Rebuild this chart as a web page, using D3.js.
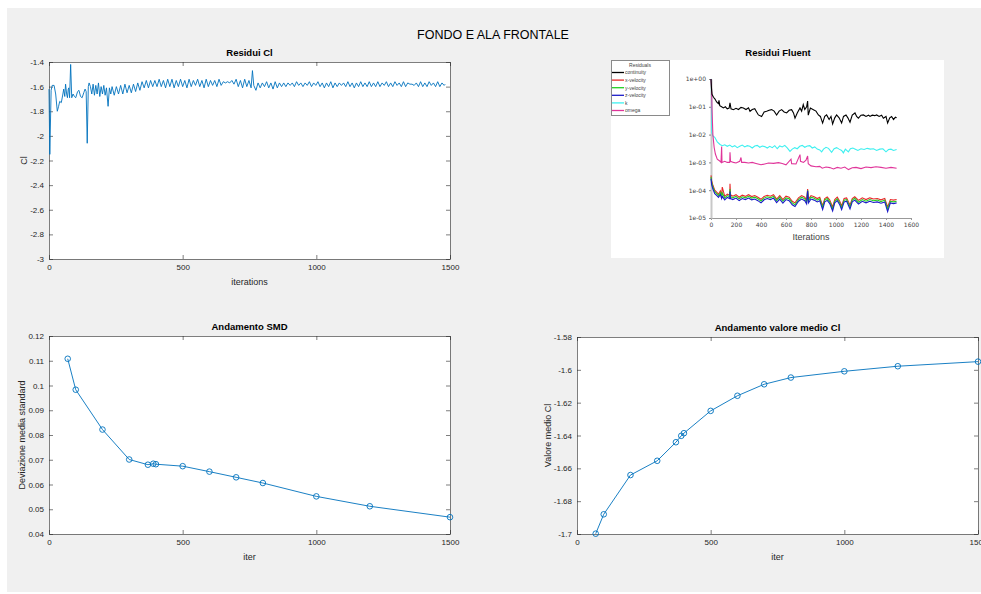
<!DOCTYPE html>
<html>
<head>
<meta charset="utf-8">
<script src="https://cdn.jsdelivr.net/npm/d3@7"></script>
<style>
  html, body { margin: 0; padding: 0; background: #fff; }
  svg { display: block; font-family: "Liberation Sans", Arial, Helvetica, sans-serif; }
</style>
</head>
<body>
<svg class="mainSvg"></svg>
<script>
// ===========================================================================
//     data area
// ===========================================================================
const figTitle = 'FONDO E ALA FRONTALE';

// Residui Cl : [iteration, Cl]
const clResidual = [
  [0, -1.62], [3, -2.15], [8, -1.63], [12, -1.59], [19, -1.59], [25, -1.66], [31, -1.80], [36, -1.76],
  [40, -1.72], [46, -1.73], [52, -1.66], [55, -1.62], [59, -1.68], [62, -1.58], [66, -1.66], [69, -1.69],
  [72, -1.62], [74, -1.61], [77, -1.69], [81, -1.42], [85, -1.69], [90, -1.66], [95, -1.68], [100, -1.69],
  [107, -1.64], [112, -1.63], [118, -1.68], [124, -1.69], [130, -1.65], [135, -1.62], [139, -1.64], [143, -2.06],
  [147, -1.60], [150, -1.57], [155, -1.60], [160, -1.66], [165, -1.58], [170, -1.67], [175, -1.59], [180, -1.66],
  [185, -1.57], [190, -1.68], [195, -1.60], [200, -1.66], [205, -1.59], [210, -1.67], [215, -1.61], [221, -1.76],
  [226, -1.61], [231, -1.66], [236, -1.60], [244, -1.67], [252, -1.60], [260, -1.66], [268, -1.59], [276, -1.66],
  [284, -1.58], [292, -1.65], [300, -1.59], [308, -1.65], [316, -1.58], [324, -1.64], [332, -1.57], [340, -1.63],
  [348, -1.56], [356, -1.61], [364, -1.55], [372, -1.61], [380, -1.55], [388, -1.60], [396, -1.55], [404, -1.60],
  [412, -1.54], [420, -1.60], [428, -1.55], [436, -1.61], [444, -1.54], [452, -1.60], [460, -1.54], [468, -1.61],
  [476, -1.55], [484, -1.60], [492, -1.54], [500, -1.60], [508, -1.55], [516, -1.61], [524, -1.54], [532, -1.60],
  [540, -1.55], [548, -1.59], [556, -1.54], [564, -1.60], [572, -1.55], [580, -1.61], [588, -1.54], [596, -1.60],
  [604, -1.55], [612, -1.59], [620, -1.55], [628, -1.60], [636, -1.54], [644, -1.59], [652, -1.56], [660, -1.57],
  [668, -1.56], [676, -1.57], [684, -1.55], [692, -1.58], [700, -1.54], [708, -1.60], [716, -1.55], [724, -1.61],
  [732, -1.54], [740, -1.60], [748, -1.55], [756, -1.61], [761, -1.47], [766, -1.59], [774, -1.63], [782, -1.57],
  [790, -1.61], [798, -1.57], [806, -1.60], [814, -1.56], [822, -1.61], [830, -1.57], [838, -1.62], [846, -1.56],
  [854, -1.61], [862, -1.57], [870, -1.60], [878, -1.57], [886, -1.60], [894, -1.57], [902, -1.59], [910, -1.57],
  [918, -1.60], [926, -1.56], [934, -1.59], [942, -1.57], [950, -1.60], [958, -1.57], [966, -1.59], [974, -1.56],
  [982, -1.60], [990, -1.57], [998, -1.59], [1006, -1.56], [1014, -1.60], [1022, -1.57], [1030, -1.61], [1038, -1.57],
  [1046, -1.60], [1054, -1.56], [1062, -1.61], [1070, -1.57], [1078, -1.60], [1086, -1.57], [1094, -1.59], [1102, -1.57],
  [1110, -1.60], [1118, -1.56], [1126, -1.60], [1134, -1.57], [1142, -1.61], [1150, -1.57], [1158, -1.60], [1166, -1.56],
  [1174, -1.60], [1182, -1.57], [1190, -1.60], [1198, -1.56], [1206, -1.60], [1214, -1.57], [1222, -1.60], [1230, -1.56],
  [1238, -1.60], [1246, -1.57], [1254, -1.59], [1262, -1.56], [1270, -1.60], [1278, -1.57], [1286, -1.60], [1294, -1.56],
  [1302, -1.59], [1310, -1.57], [1318, -1.60], [1326, -1.56], [1334, -1.60], [1342, -1.57], [1350, -1.58], [1358, -1.58],
  [1366, -1.59], [1374, -1.57], [1382, -1.60], [1390, -1.56], [1398, -1.60], [1406, -1.57], [1414, -1.60], [1422, -1.56],
  [1430, -1.59], [1438, -1.57], [1446, -1.60], [1454, -1.56], [1462, -1.60], [1470, -1.57], [1478, -1.59], [1482, -1.58],
];
const clTicks = [-3, -2.8, -2.6, -2.4, -2.2, -2, -1.8, -1.6, -1.4];
const iterTicks = [0, 500, 1000, 1500];

// Andamento SMD / valore medio Cl
const sampleIter = [70, 100, 200, 300, 370, 390, 400, 500, 600, 700, 800, 1000, 1200, 1500];
const smdValue = [0.1108, 0.0983, 0.0822, 0.0701, 0.0680, 0.0684, 0.0682, 0.0674, 0.0652, 0.0629, 0.0606, 0.0552, 0.0512, 0.0468];
const meanClValue = [-1.6998, -1.6880, -1.6641, -1.6554, -1.6441, -1.6402, -1.6386, -1.6250, -1.6158, -1.6088, -1.6047, -1.6009, -1.5978, -1.5950];
const smdTicks = [0.04, 0.05, 0.06, 0.07, 0.08, 0.09, 0.1, 0.11, 0.12];
const meanClTicks = [-1.7, -1.68, -1.66, -1.64, -1.62, -1.6, -1.58];

// Residui Fluent (scaled residuals) : [iteration, residual]
const continuityRes = [
  [0, 1.0], [4, 0.45], [8, 0.28], [20, 0.22], [32, 0.19], [45, 0.15], [59, 0.13], [64, 0.17], [70, 0.11], [85, 0.10],
  [99, 0.091], [115, 0.10], [130, 0.085], [145, 0.09], [152, 0.14], [160, 0.085], [179, 0.079], [200, 0.088], [220, 0.08],
  [240, 0.095], [259, 0.091], [280, 0.08], [300, 0.092], [312, 0.069], [330, 0.08], [350, 0.085], [365, 0.065], [379, 0.051],
  [405, 0.045], [425, 0.065], [445, 0.069], [465, 0.075], [485, 0.079], [505, 0.07], [525, 0.051], [545, 0.07], [565, 0.079],
  [585, 0.065], [605, 0.06], [625, 0.075], [645, 0.079], [660, 0.06], [672, 0.039], [690, 0.06], [712, 0.091], [725, 0.07],
  [738, 0.12], [750, 0.08], [765, 0.1], [773, 0.16], [778, 0.05], [795, 0.09], [819, 0.079], [840, 0.07], [859, 0.051],
  [875, 0.045], [893, 0.026], [910, 0.045], [925, 0.051], [945, 0.035], [960, 0.045], [973, 0.024], [990, 0.04], [1005, 0.051],
  [1025, 0.04], [1045, 0.026], [1060, 0.045], [1080, 0.051], [1095, 0.04], [1112, 0.028], [1130, 0.05], [1152, 0.06],
  [1165, 0.045], [1179, 0.039], [1200, 0.05], [1219, 0.051], [1240, 0.045], [1260, 0.05], [1272, 0.045], [1290, 0.05],
  [1310, 0.048], [1325, 0.051], [1345, 0.045], [1365, 0.05], [1379, 0.039], [1400, 0.045], [1413, 0.026], [1430, 0.04],
  [1445, 0.045], [1460, 0.035], [1475, 0.042], [1485, 0.04],
];
const kRes = [
  [0, 1.0], [3, 0.9], [6, 0.012], [15, 0.009], [30, 0.008], [50, 0.0055], [72, 0.0044], [90, 0.0040], [110, 0.0043],
  [130, 0.0038], [150, 0.0042], [170, 0.0036], [190, 0.0040], [210, 0.0034], [230, 0.0038], [250, 0.0042], [270, 0.0036],
  [290, 0.0040], [310, 0.0038], [330, 0.0033], [350, 0.0039], [370, 0.0041], [390, 0.0035], [410, 0.0039], [430, 0.0037],
  [450, 0.0033], [470, 0.0038], [490, 0.0034], [510, 0.0040], [530, 0.0031], [550, 0.0039], [570, 0.0036], [590, 0.0041],
  [610, 0.0033], [632, 0.0025], [650, 0.0030], [670, 0.0034], [690, 0.0031], [710, 0.0038], [730, 0.0041], [750, 0.0035],
  [770, 0.0039], [790, 0.0040], [810, 0.0033], [830, 0.0036], [850, 0.0030], [870, 0.0028], [885, 0.0024], [900, 0.0030],
  [920, 0.0035], [940, 0.0032], [965, 0.0023], [985, 0.0031], [1005, 0.0034], [1025, 0.0030], [1045, 0.0027], [1059, 0.0022],
  [1075, 0.0030], [1099, 0.0024], [1115, 0.0031], [1135, 0.0033], [1155, 0.0030], [1175, 0.0027], [1200, 0.0031],
  [1225, 0.0029], [1250, 0.0032], [1275, 0.0030], [1300, 0.0031], [1325, 0.0027], [1350, 0.0030], [1375, 0.0031],
  [1400, 0.0024], [1420, 0.0029], [1440, 0.0030], [1460, 0.0027], [1485, 0.0029],
];
const omegaRes = [
  [0, 1.0], [4, 0.5], [8, 0.08], [15, 0.01], [25, 0.0035], [35, 0.002], [50, 0.0013], [72, 0.0011], [80, 0.001],
  [85, 0.0037], [88, 0.001], [110, 0.0011], [130, 0.001], [150, 0.0010], [152, 0.0023], [156, 0.0011], [180, 0.001],
  [200, 0.00095], [230, 0.0011], [240, 0.0015], [245, 0.001], [270, 0.001], [300, 0.00095], [330, 0.001], [360, 0.00092],
  [400, 0.00082], [430, 0.00088], [460, 0.00095], [500, 0.00092], [540, 0.00098], [570, 0.00092], [600, 0.00082],
  [640, 0.0013], [645, 0.0009], [680, 0.00088], [712, 0.0019], [716, 0.0011], [740, 0.0010], [760, 0.0012], [773, 0.0017],
  [778, 0.0009], [800, 0.00075], [840, 0.0007], [870, 0.00072], [890, 0.00062], [920, 0.00068], [950, 0.00065],
  [980, 0.00058], [1010, 0.00066], [1040, 0.00062], [1070, 0.00068], [1100, 0.00055], [1130, 0.00064], [1160, 0.00066],
  [1200, 0.0006], [1240, 0.00068], [1280, 0.00065], [1320, 0.0007], [1360, 0.00066], [1400, 0.00062], [1440, 0.00066],
  [1485, 0.00062],
];
const velIter = [0, 5, 15, 30, 45, 60, 75, 85, 90, 110, 130, 150, 152, 156, 175, 200, 225, 250, 275, 300, 325, 350, 375,
  400, 425, 450, 475, 500, 525, 550, 575, 600, 625, 650, 672, 700, 725, 750, 765, 773, 780, 800, 825, 850, 870, 893, 910,
  930, 950, 973, 990, 1010, 1030, 1045, 1065, 1085, 1112, 1130, 1150, 1180, 1210, 1240, 1270, 1300, 1330, 1360, 1390,
  1413, 1435, 1460, 1485];
const xVelRes = [3.4e-4, 2.2e-4, 1.5e-4, 1.0e-4, 8.5e-5, 7.2e-5, 9.5e-5, 6.6e-5, 1.3e-4, 6.0e-5, 7.2e-5, 6.6e-5, 1.7e-4,
  6.8e-5, 6.1e-5, 6.9e-5, 5.6e-5, 6.6e-5, 6.0e-5, 6.9e-5, 5.9e-5, 6.4e-5, 5.6e-5, 4.7e-5, 6.0e-5, 6.6e-5, 6.1e-5, 6.9e-5,
  4.8e-5, 6.4e-5, 4.6e-5, 6.1e-5, 5.6e-5, 4.0e-5, 3.5e-5, 5.3e-5, 6.4e-5, 5.6e-5, 4.3e-5, 1.1e-4, 4.7e-5, 6.4e-5, 5.8e-5,
  5.0e-5, 5.6e-5, 2.8e-5, 5.0e-5, 5.7e-5, 4.4e-5, 2.5e-5, 4.6e-5, 5.6e-5, 4.0e-5, 2.7e-5, 5.0e-5, 5.3e-5, 2.9e-5, 5.0e-5,
  5.8e-5, 4.3e-5, 5.3e-5, 4.6e-5, 5.3e-5, 4.8e-5, 5.0e-5, 4.5e-5, 5.0e-5, 2.5e-5, 4.6e-5, 4.4e-5, 4.6e-5];
const yVelRes = [3.0e-4, 1.9e-4, 1.3e-4, 8.8e-5, 7.5e-5, 6.4e-5, 8.2e-5, 5.8e-5, 8.0e-5, 5.2e-5, 6.4e-5, 5.8e-5, 1.1e-4,
  5.9e-5, 5.3e-5, 6.0e-5, 4.9e-5, 5.8e-5, 5.3e-5, 6.0e-5, 5.2e-5, 5.6e-5, 4.9e-5, 4.1e-5, 5.2e-5, 5.8e-5, 5.3e-5, 6.0e-5,
  4.2e-5, 5.6e-5, 4.0e-5, 5.3e-5, 4.9e-5, 3.5e-5, 3.0e-5, 4.6e-5, 5.6e-5, 4.9e-5, 3.7e-5, 1.0e-4, 4.1e-5, 5.6e-5, 5.1e-5,
  4.4e-5, 4.9e-5, 2.4e-5, 4.4e-5, 5.0e-5, 3.8e-5, 2.1e-5, 4.0e-5, 4.9e-5, 3.5e-5, 2.3e-5, 4.4e-5, 4.6e-5, 2.5e-5, 4.4e-5,
  5.1e-5, 3.7e-5, 4.6e-5, 4.0e-5, 4.6e-5, 4.2e-5, 4.4e-5, 3.9e-5, 4.4e-5, 2.1e-5, 4.0e-5, 3.8e-5, 4.0e-5];
const zVelRes = [2.6e-4, 1.6e-4, 1.1e-4, 7.5e-5, 6.5e-5, 5.5e-5, 7.0e-5, 5.0e-5, 6.0e-5, 4.5e-5, 5.5e-5, 5.0e-5, 9.0e-5,
  5.0e-5, 4.6e-5, 5.2e-5, 4.2e-5, 5.0e-5, 4.6e-5, 5.2e-5, 4.5e-5, 4.8e-5, 4.2e-5, 3.5e-5, 4.5e-5, 5.0e-5, 4.6e-5, 5.2e-5,
  3.6e-5, 4.8e-5, 3.4e-5, 4.6e-5, 4.2e-5, 3.0e-5, 2.6e-5, 4.0e-5, 4.8e-5, 4.2e-5, 3.2e-5, 9.6e-5, 3.5e-5, 4.8e-5, 4.4e-5,
  3.8e-5, 4.2e-5, 2.0e-5, 3.8e-5, 4.3e-5, 3.3e-5, 1.8e-5, 3.5e-5, 4.2e-5, 3.0e-5, 2.0e-5, 3.8e-5, 4.0e-5, 2.1e-5, 3.8e-5,
  4.4e-5, 3.2e-5, 4.0e-5, 3.5e-5, 4.0e-5, 3.6e-5, 3.8e-5, 3.4e-5, 3.8e-5, 1.7e-5, 3.5e-5, 3.3e-5, 3.5e-5];
const fluentNames = ['continuity', 'x-velocity', 'y-velocity', 'z-velocity', 'k', 'omega'];
const fluentColors = ['#000000', '#e8282a', '#22d022', '#1c1cc8', '#3ef0f0', '#e0359a'];
const fluentYTicks = [1, 1e-1, 1e-2, 1e-3, 1e-4, 1e-5];
const fluentYLabels = ['1e+00', '1e-01', '1e-02', '1e-03', '1e-04', '1e-05'];
const fluentXTicks = [0, 200, 400, 600, 800, 1000, 1200, 1400, 1600];

// ===========================================================================
//      procedure
// ===========================================================================
const W = 981;
const H = 594;
const lineColor = '#0072bd';
const axisColor = '#262626';
const tickFont = 8;
const labelFont = 9;
const titleFont = 9.5;

const svg = d3.select('.mainSvg')
  .attr('width', W)
  .attr('height', H);

svg.append('rect')
  .attr('x', 7).attr('y', 8)
  .attr('width', W - 7).attr('height', H - 10)
  .attr('fill', '#f0f0f0');

svg.append('text')
  .attr('x', 493).attr('y', 39)
  .attr('text-anchor', 'middle')
  .attr('font-size', 12.5)
  .attr('fill', '#000')
  .text(figTitle);

// matlab style axes: white box, inward ticks on all 4 sides
function matlabAxes(box, xDomain, yDomain, xTicks, yTicks, labels) {
  const x = d3.scaleLinear().domain(xDomain).range([box.left, box.right]);
  const y = d3.scaleLinear().domain(yDomain).range([box.bottom, box.top]);
  const g = svg.append('g');
  g.append('rect')
    .attr('x', box.left).attr('y', box.top)
    .attr('width', box.right - box.left)
    .attr('height', box.bottom - box.top)
    .attr('fill', '#fff');

  const fmt = d => String(+d.toFixed(4));
  const sides = [
    [d3.axisBottom(x).tickValues(xTicks).tickFormat(fmt), `translate(0,${box.bottom})`],
    [d3.axisTop(x).tickValues(xTicks).tickFormat(''), `translate(0,${box.top})`],
    [d3.axisLeft(y).tickValues(yTicks).tickFormat(fmt), `translate(${box.left},0)`],
    [d3.axisRight(y).tickValues(yTicks).tickFormat(''), `translate(${box.right},0)`],
  ];
  sides.forEach(function (s) {
    const a = g.append('g')
      .attr('transform', s[1])
      .call(s[0].tickSizeInner(-4).tickSizeOuter(0).tickPadding(5));
    a.selectAll('path, line').attr('stroke', axisColor).attr('stroke-width', 0.6);
    a.selectAll('text')
      .attr('font-family', '"Liberation Sans", Arial, sans-serif')
      .attr('font-size', tickFont)
      .attr('fill', axisColor);
  });

  const cx = (box.left + box.right) / 2;
  g.append('text')
    .attr('x', cx).attr('y', box.top - 6)
    .attr('text-anchor', 'middle')
    .attr('font-size', titleFont).attr('font-weight', 'bold')
    .attr('fill', '#000')
    .text(labels.title);
  g.append('text')
    .attr('x', cx).attr('y', box.bottom + 26)
    .attr('text-anchor', 'middle')
    .attr('font-size', labelFont)
    .attr('fill', axisColor)
    .text(labels.x);
  g.append('text')
    .attr('transform', `translate(${labels.yx},${(box.top + box.bottom) / 2}) rotate(-90)`)
    .attr('dy', '0.35em')
    .attr('text-anchor', 'middle')
    .attr('font-size', labelFont)
    .attr('fill', axisColor)
    .text(labels.y);
  return { x, y, g };
}

// ===========================================================================
//      Residui Cl
// ===========================================================================
const ax1 = matlabAxes({ left: 49, right: 450, top: 62, bottom: 259 },
  [0, 1500], [-3, -1.4], iterTicks, clTicks,
  { title: 'Residui Cl', x: 'iterations', y: 'Cl', yx: 24 });

ax1.g.append('path')
  .datum(clResidual)
  .attr('d', d3.line().x(d => ax1.x(d[0])).y(d => ax1.y(d[1])))
  .attr('fill', 'none')
  .attr('stroke', lineColor)
  .attr('stroke-width', 0.9);

// ===========================================================================
//      Andamento SMD / valore medio Cl
// ===========================================================================
function markerLine(ax, xs, ys) {
  const pts = xs.map((v, i) => [v, ys[i]]);
  ax.g.append('path')
    .datum(pts)
    .attr('d', d3.line().x(d => ax.x(d[0])).y(d => ax.y(d[1])))
    .attr('fill', 'none')
    .attr('stroke', lineColor)
    .attr('stroke-width', 0.9);
  ax.g.selectAll('circle.mk')
    .data(pts)
    .enter()
    .append('circle')
    .attr('class', 'mk')
    .attr('cx', d => ax.x(d[0]))
    .attr('cy', d => ax.y(d[1]))
    .attr('r', 2.8)
    .attr('fill', 'none')
    .attr('stroke', lineColor)
    .attr('stroke-width', 0.9);
}

const ax3 = matlabAxes({ left: 49, right: 450, top: 336, bottom: 534 },
  [0, 1500], [0.04, 0.12], iterTicks, smdTicks,
  { title: 'Andamento SMD', x: 'iter', y: 'Deviazione media standard', yx: 22 });
markerLine(ax3, sampleIter, smdValue);

const ax4 = matlabAxes({ left: 577, right: 978, top: 337, bottom: 534 },
  [0, 1500], [-1.7, -1.58], iterTicks, meanClTicks,
  { title: 'Andamento valore medio Cl', x: 'iter', y: 'Valore medio Cl', yx: 548 });
markerLine(ax4, sampleIter, meanClValue);

// ===========================================================================
//      Residui Fluent (picture-like panel)
// ===========================================================================
const fg = svg.append('g');
fg.append('text')
  .attr('x', 778).attr('y', 56)
  .attr('text-anchor', 'middle')
  .attr('font-size', titleFont).attr('font-weight', 'bold')
  .attr('fill', '#000')
  .text('Residui Fluent');
fg.append('rect')
  .attr('x', 611).attr('y', 60)
  .attr('width', 333).attr('height', 198)
  .attr('fill', '#fff');

const fx = d3.scaleLinear().domain([0, 1600]).range([711, 911]);
const fy = d3.scaleLog().domain([1e-5, 1]).range([218, 79]);

const fxAxis = fg.append('g')
  .attr('transform', 'translate(0,218)')
  .call(d3.axisBottom(fx).tickValues(fluentXTicks).tickFormat(d3.format('d'))
    .tickSizeInner(2).tickSizeOuter(0).tickPadding(3));
fxAxis.selectAll('path, line').attr('stroke', '#999').attr('stroke-width', 1);
fxAxis.selectAll('text').attr('font-size', 6).attr('fill', '#444')
  .attr('font-family', '"DejaVu Sans", sans-serif');

const fyAxis = fg.append('g')
  .attr('transform', 'translate(711,0)')
  .call(d3.axisLeft(fy).tickValues(fluentYTicks).tickFormat((d, i) => fluentYLabels[i])
    .tickSizeInner(2).tickSizeOuter(0).tickPadding(3));
fyAxis.select('path').attr('stroke', '#c8c8c8').attr('stroke-width', 2);
fyAxis.selectAll('line').attr('stroke', '#888');
fyAxis.selectAll('text').attr('font-size', 6).attr('fill', '#444')
  .attr('font-family', '"DejaVu Sans", sans-serif');

fg.append('text')
  .attr('x', 811).attr('y', 240)
  .attr('text-anchor', 'middle')
  .attr('font-size', 9)
  .attr('fill', '#444')
  .text('Iterations');

const fLine = d3.line().x(d => fx(d[0])).y(d => fy(d[1]));
const fluentSeries = [
  continuityRes,
  velIter.map((v, i) => [v, xVelRes[i]]),
  velIter.map((v, i) => [v, yVelRes[i]]),
  velIter.map((v, i) => [v, zVelRes[i]]),
  kRes,
  omegaRes,
];
// draw k, omega, continuity first, velocities on top in order x, y, z
[4, 5, 0, 1, 2, 3].forEach(function (i) {
  fg.append('path')
    .datum(fluentSeries[i])
    .attr('d', fLine)
    .attr('fill', 'none')
    .attr('stroke', fluentColors[i])
    .attr('stroke-width', 1.1);
});

// legend box
const lg = fg.append('g');
lg.append('rect')
  .attr('x', 611.5).attr('y', 60.5)
  .attr('width', 58).attr('height', 55)
  .attr('fill', '#fff')
  .attr('stroke', '#8a8a8a');
lg.append('text')
  .attr('x', 640).attr('y', 67)
  .attr('text-anchor', 'middle')
  .attr('font-size', 5)
  .attr('fill', '#444')
  .text('Residuals');
lg.selectAll('g.entry')
  .data(fluentNames)
  .enter()
  .append('g')
  .attr('class', 'entry')
  .each(function (name, i) {
    const yy = 72.5 + i * 7.6;
    d3.select(this).append('line')
      .attr('x1', 612).attr('x2', 624)
      .attr('y1', yy).attr('y2', yy)
      .attr('stroke', fluentColors[i])
      .attr('stroke-width', 1.3);
    d3.select(this).append('text')
      .attr('x', 625).attr('y', yy + 1.8)
      .attr('font-size', 5)
      .attr('fill', '#444')
      .text(name);
  });
</script>
</body>
</html>
